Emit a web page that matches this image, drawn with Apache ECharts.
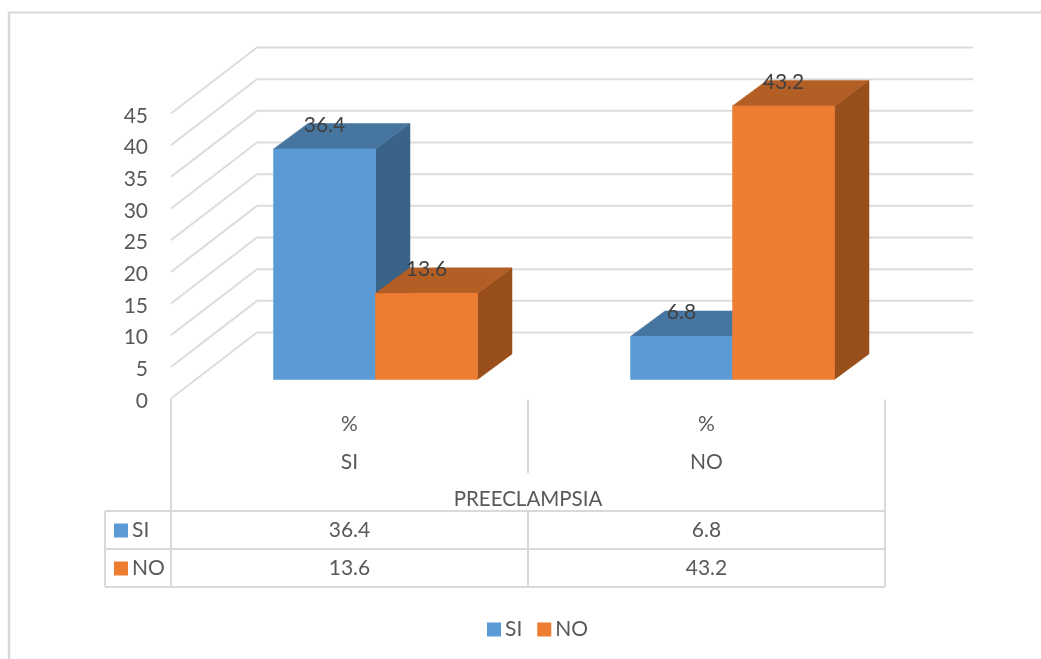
<!DOCTYPE html>
<html>
<head>
<meta charset="utf-8">
<style>html,body{margin:0;padding:0;background:#fff}#chart{width:1041px;height:659px}</style>
<script src="https://cdn.jsdelivr.net/npm/echarts@6/dist/echarts.min.js"></script>
</head>
<body>
<div id="chart"></div>
<script>
const categories = ['SI', 'NO'];
const unitLabel = '%';
const axisTitle = 'PREECLAMPSIA';
const seriesNames = ['SI', 'NO'];
const siValues = [36.4, 6.8];
const noValues = [13.6, 43.2];
const yTicks = [0, 5, 10, 15, 20, 25, 30, 35, 40, 45];

const FONT = 'Lato';
const FONT_SIZE = 21;
const TEXT = '#595959';
const LABEL = '#404040';
const GRID = '#dddddd';
const palette = [
  { front: '#5b9bd5', top: '#4675a0', side: '#3a6388' },
  { front: '#ed7d31', top: '#b35e24', side: '#984f1b' }
];

// Oblique projection: wall depth and where the bars sit on the floor
const WALL_DX = 86, WALL_DY = 66;
const BAR_SHIFT_DX = 26, BAR_SHIFT_DY = 19;
const BAR_DX = 34.5, BAR_DY = 25.5;
const BARS_PER_BAND = 3.5; // two bars plus a 150% gap

const GRID_BOX = { left: 171, top: 113.5, width: 714, height: 285 };
const TABLE_LEFT = 105;
const TABLE_ROWS = [511, 549, 587];

const chart = echarts.init(document.getElementById('chart'), null, { renderer: 'canvas' });

function renderWall(params, api) {
  const front = api.coord([0, api.value(0)]);
  const x0 = GRID_BOX.left;
  const backX = x0 + WALL_DX, backY = front[1] - WALL_DY;
  return {
    type: 'polyline',
    shape: { points: [[x0, front[1]], [backX, backY], [GRID_BOX.left + GRID_BOX.width + WALL_DX + 2, backY]] },
    style: { stroke: GRID, lineWidth: 2, fill: null }
  };
}

function barRenderer(seriesPos, colors) {
  return function (params, api) {
    const cat = api.value(0), val = api.value(1);
    const band = api.size([1, 0])[0];
    const w = band / BARS_PER_BAND;
    const top = api.coord([cat, val]);
    const base = api.coord([cat, 0]);
    const xl = top[0] + BAR_SHIFT_DX + (seriesPos - 1) * w;
    const xr = xl + w;
    const yt = top[1] - BAR_SHIFT_DY;
    const yb = base[1] - BAR_SHIFT_DY;
    const poly = (pts, fill) => ({
      type: 'polygon',
      shape: { points: pts },
      style: { fill: fill, stroke: fill, lineWidth: 0.5 }
    });
    return {
      type: 'group',
      children: [
        poly([[xr, yt], [xr + BAR_DX, yt - BAR_DY], [xr + BAR_DX, yb - BAR_DY], [xr, yb]], colors.side),
        poly([[xl, yt], [xl + BAR_DX, yt - BAR_DY], [xr + BAR_DX, yt - BAR_DY], [xr, yt]], colors.top),
        poly([[xl, yt], [xr, yt], [xr, yb], [xl, yb]], colors.front),
        {
          type: 'text',
          z2: 10,
          style: {
            x: (xl + xr) / 2, y: yt - 24,
            text: String(val),
            font: FONT_SIZE + 'px ' + FONT,
            fill: LABEL,
            align: 'center', verticalAlign: 'middle'
          }
        }
      ]
    };
  };
}

function barSeries(name, values, pos, colors) {
  return {
    name: name,
    type: 'custom',
    coordinateSystem: 'cartesian2d',
    renderItem: barRenderer(pos, colors),
    encode: { x: 0, y: 1 },
    itemStyle: { color: colors.front },
    z: 5 + pos,
    data: values.map((v, i) => [i, v])
  };
}

chart.setOption({
  animation: false,
  backgroundColor: '#fff',
  textStyle: { fontFamily: FONT },
  grid: GRID_BOX,
  legend: {
    left: 482, top: 614,
    padding: 5,
    itemWidth: 14, itemHeight: 14, itemGap: 15,
    icon: 'rect',
    data: seriesNames,
    textStyle: { fontFamily: FONT, fontSize: FONT_SIZE, color: TEXT, padding: [0, 0, 0, -1] }
  },
  xAxis: {
    type: 'category',
    data: categories,
    axisLine: { show: false },
    axisTick: { show: false },
    axisLabel: {
      interval: 0, margin: 7,
      fontFamily: FONT, fontSize: FONT_SIZE, color: TEXT, lineHeight: 38,
      formatter: v => unitLabel + '\n' + v
    },
    name: axisTitle,
    nameLocation: 'middle',
    nameGap: 90,
    nameTextStyle: { fontFamily: FONT, fontSize: 20.5, color: TEXT }
  },
  yAxis: {
    type: 'value',
    min: 0, max: 45, interval: 5,
    splitLine: { show: false },
    axisLine: { show: false },
    axisTick: { show: false },
    // labels sit slightly below their ticks
    axisLabel: { margin: 23, fontFamily: FONT, fontSize: FONT_SIZE, color: TEXT, verticalAlign: 'top', lineHeight: 5 }
  },
  series: [
    {
      name: 'wall',
      type: 'custom',
      coordinateSystem: 'cartesian2d',
      renderItem: renderWall,
      encode: { y: 0 },
      z: 1,
      silent: true,
      data: yTicks.map(t => [t])
    },
    barSeries(seriesNames[0], siValues, 0, palette[0]),
    barSeries(seriesNames[1], noValues, 1, palette[1])
  ]
});

// Data table under the plot, plus the outer chart frame
function buildTable() {
  const items = [];
  const line = (x1, y1, x2, y2, w) => items.push({
    type: 'line', silent: true,
    shape: { x1, y1, x2, y2 },
    style: { stroke: '#d9d9d9', lineWidth: w || 2 }
  });
  const text = (x, y, t, align) => items.push({
    type: 'text', silent: true,
    style: { x, y, text: t, font: FONT_SIZE + 'px ' + FONT, fill: TEXT, align: align || 'center', verticalAlign: 'middle' }
  });
  const left = GRID_BOX.left, right = left + GRID_BOX.width, floor = GRID_BOX.top + GRID_BOX.height;
  const mid = (left + right) / 2;
  const colCentres = categories.map((c, i) => chart.convertToPixel({ xAxisIndex: 0 }, i));

  // frame
  line(9, 12.5, 1041, 12.5, 2);
  line(9, 12, 9, 659, 2.5);

  // verticals
  line(left, floor, left, TABLE_ROWS[2]);
  line(right, floor + 1, right, TABLE_ROWS[2]);
  line(mid, floor + 1, mid, 473);
  line(mid, TABLE_ROWS[0], mid, TABLE_ROWS[2]);
  line(TABLE_LEFT, TABLE_ROWS[0], TABLE_LEFT, TABLE_ROWS[2]);

  // horizontals
  TABLE_ROWS.forEach(y => line(TABLE_LEFT, y, right, y));

  [siValues, noValues].forEach((vals, r) => {
    const y = (TABLE_ROWS[r] + TABLE_ROWS[r + 1]) / 2 + 0.5;
    items.push({
      type: 'rect', silent: true,
      shape: { x: 114, y: y - 7, width: 14, height: 14 },
      style: { fill: palette[r].front }
    });
    text(132, y, seriesNames[r], 'left');
    vals.forEach((v, c) => text(colCentres[c], y, String(v)));
  });
  chart.setOption({ graphic: { elements: items } });
}
buildTable();
</script>
</body>
</html>
